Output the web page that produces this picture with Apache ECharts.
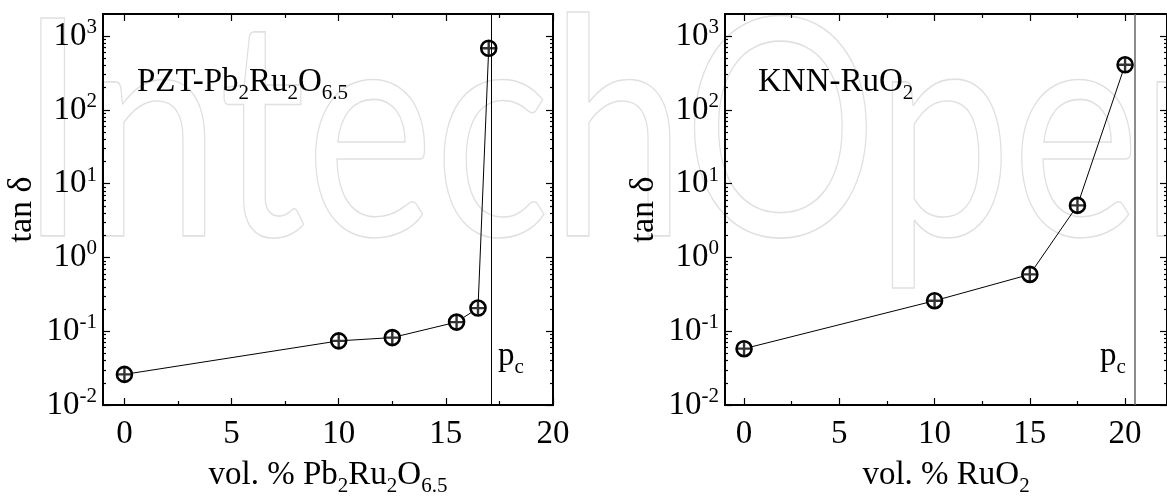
<!DOCTYPE html>
<html>
<head>
<meta charset="utf-8">
<script src="https://cdn.jsdelivr.net/npm/echarts@6/dist/echarts.min.js"></script>
<style>
html, body { margin: 0; padding: 0; background: #fff; }
#chart { width: 1167px; height: 502px; }
</style>
</head>
<body>
<div id="chart"></div>
<script>
// PZT-Pb2Ru2O6.5 panel
var pztX = [0, 10, 12.5, 15.5, 16.5, 17];
var pztTan = [0.026, 0.074, 0.082, 0.133, 0.206, 685];
var pztPc = 17.1;

// KNN-RuO2 panel
var knnX = [0, 10, 15, 17.5, 20];
var knnTan = [0.058, 0.259, 0.589, 5.08, 409];
var knnPc = 20.53;

var xLabelValues = [0, 5, 10, 15, 20];
var xMinorValues = [2.5, 7.5, 12.5, 17.5];
var yLabelValues = [0.01, 0.1, 1, 10, 100, 1000];

var serif = '"Liberation Serif", "Times New Roman", serif';

// minor log ticks 2..9 in each decade
var yMinorValues = [];
for (var d = -2; d <= 3; d++) {
    for (var m = 2; m <= 9; m++) {
        yMinorValues.push(m * Math.pow(10, d));
    }
}

var rich = {
    b: { fontSize: 33, fontFamily: serif, fontWeight: 'normal', color: '#000' },
    sup: { fontSize: 21, fontFamily: serif, fontWeight: 'normal', color: '#000', padding: [0, 0, 17, 0] },
    sub: { fontSize: 21, fontFamily: serif, fontWeight: 'normal', color: '#000', padding: [23, 0, 0, 0] }
};

function pairs(xs, ys) {
    var out = [];
    for (var i = 0; i < xs.length; i++) {
        out.push([xs[i], ys[i]]);
    }
    return out;
}

function Panel(index, left, width, xMax, xName, pcValue, pcColor, pcWidth, xs, ys) {
    this.index = index;
    this.left = left;
    this.width = width;
    this.xMax = xMax;
    this.xName = xName;
    this.pcValue = pcValue;
    this.pcColor = pcColor;
    this.pcWidth = pcWidth;
    this.data = pairs(xs, ys);
}

Panel.prototype.grid = function () {
    return {
        left: this.left, top: 14, width: this.width, height: 397,
        show: true, borderColor: '#000', borderWidth: 2, backgroundColor: 'transparent'
    };
};

Panel.prototype.xAxes = function () {
    var base = { type: 'value', gridIndex: this.index, min: -1, max: this.xMax, offset: 0,
        splitLine: { show: false }, axisLine: { show: false, onZero: false } };
    var list = [];
    var specs = [
        { position: 'bottom', values: xLabelValues, len: 7, label: true },
        { position: 'bottom', values: xMinorValues, len: 4 },
        { position: 'top', values: xLabelValues, len: 7 },
        { position: 'top', values: xMinorValues, len: 4 }
    ];
    for (var i = 0; i < specs.length; i++) {
        var s = specs[i];
        var ax = Object.assign({}, base, {
            position: s.position,
            axisTick: { inside: true, length: s.len, customValues: s.values,
                lineStyle: { color: '#000', width: 1.2 } },
            axisLabel: s.label ? { customValues: xLabelValues, fontSize: 33,
                fontFamily: serif, color: '#000', margin: 13 } : { show: false }
        });
        if (s.label) {
            ax.name = this.xName;
            ax.nameLocation = 'middle';
            ax.nameGap = 48;
            ax.nameTextStyle = { rich: rich };
        }
        list.push(ax);
    }
    return list;
};

Panel.prototype.yAxes = function () {
    var list = [];
    var specs = [
        { position: 'left', values: yLabelValues, len: 7, label: true },
        { position: 'left', values: yMinorValues, len: 3 },
        { position: 'right', values: yLabelValues, len: 7 },
        { position: 'right', values: yMinorValues, len: 3 }
    ];
    for (var i = 0; i < specs.length; i++) {
        var s = specs[i];
        var ax = {
            type: 'log', logBase: 10, gridIndex: this.index, offset: 0,
            min: 0.01, max: 1995.26, position: s.position,
            splitLine: { show: false }, axisLine: { show: false, onZero: false },
            axisTick: { inside: true, length: s.len, customValues: s.values,
                lineStyle: { color: '#000', width: 1.2 } },
            axisLabel: s.label ? {
                customValues: yLabelValues, margin: 6, rich: rich,
                formatter: function (v) {
                    var e = Math.round(Math.log(v) / Math.LN10);
                    return '{b|10}{sup|' + e + '}';
                }
            } : { show: false }
        };
        if (s.label) {
            ax.name = 'tan δ';
            ax.nameLocation = 'middle';
            ax.nameRotate = 90;
            ax.nameGap = 64;
            ax.nameTextStyle = { fontSize: 34, fontFamily: serif, color: '#000' };
        }
        list.push(ax);
    }
    return list;
};

Panel.prototype.series = function () {
    var xi = this.index * 4;
    var yi = this.index * 4;
    return [
        {
            type: 'line', xAxisIndex: xi, yAxisIndex: yi, data: this.data,
            symbol: 'circle', symbolSize: 15,
            itemStyle: { color: '#fff', borderColor: '#000', borderWidth: 2.6 },
            lineStyle: { color: '#000', width: 1 },
            markLine: {
                silent: true, symbol: 'none', label: { show: false },
                lineStyle: { color: this.pcColor, width: this.pcWidth, type: 'solid' },
                data: [{ xAxis: this.pcValue }]
            },
            z: 3
        },
        {
            type: 'scatter', xAxisIndex: xi, yAxisIndex: yi, data: this.data,
            symbol: 'path://M-1.1,-6H1.1V6H-1.1Z M-6,-1.1H6V1.1H-6Z', symbolSize: 13,
            itemStyle: { color: '#000' }, z: 4
        }
    ];
};

var panels = [
    new Panel(0, 103, 450, 20, '{b|vol. % Pb}{sub|2}{b|Ru}{sub|2}{b|O}{sub|6.5}',
        pztPc, '#000', 1, pztX, pztTan),
    new Panel(1, 725, 444.7, 22.2, '{b|vol. % RuO}{sub|2}',
        knnPc, '#666', 1.5, knnX, knnTan)
];

var option = {
    animation: false,
    backgroundColor: '#fff',
    textStyle: { fontFamily: serif },
    graphic: [{
        type: 'text', left: 18, top: -15, z: -10, silent: true, scaleX: 0.8,
        style: { text: 'IntechOpen', font: '304px Lato', fill: 'none',
            stroke: '#e0e0e0', lineWidth: 1.6 }
    }],
    title: [
        { text: '{b|PZT-Pb}{sub|2}{b|Ru}{sub|2}{b|O}{sub|6.5}', left: 137, top: 60, padding: 0,
            textStyle: { rich: rich } },
        { text: '{b|KNN-RuO}{sub|2}', left: 758, top: 60, padding: 0,
            textStyle: { rich: rich } },
        { text: '{b|p}{sub|c}', left: 498, top: 334, padding: 0, textStyle: { rich: rich } },
        { text: '{b|p}{sub|c}', left: 1100, top: 334, padding: 0, textStyle: { rich: rich } }
    ],
    grid: [],
    xAxis: [],
    yAxis: [],
    series: []
};

for (var p = 0; p < panels.length; p++) {
    option.grid.push(panels[p].grid());
    option.xAxis = option.xAxis.concat(panels[p].xAxes());
    option.yAxis = option.yAxis.concat(panels[p].yAxes());
    option.series = option.series.concat(panels[p].series());
}

var chart = echarts.init(document.getElementById('chart'));
chart.setOption(option);
</script>
</body>
</html>
